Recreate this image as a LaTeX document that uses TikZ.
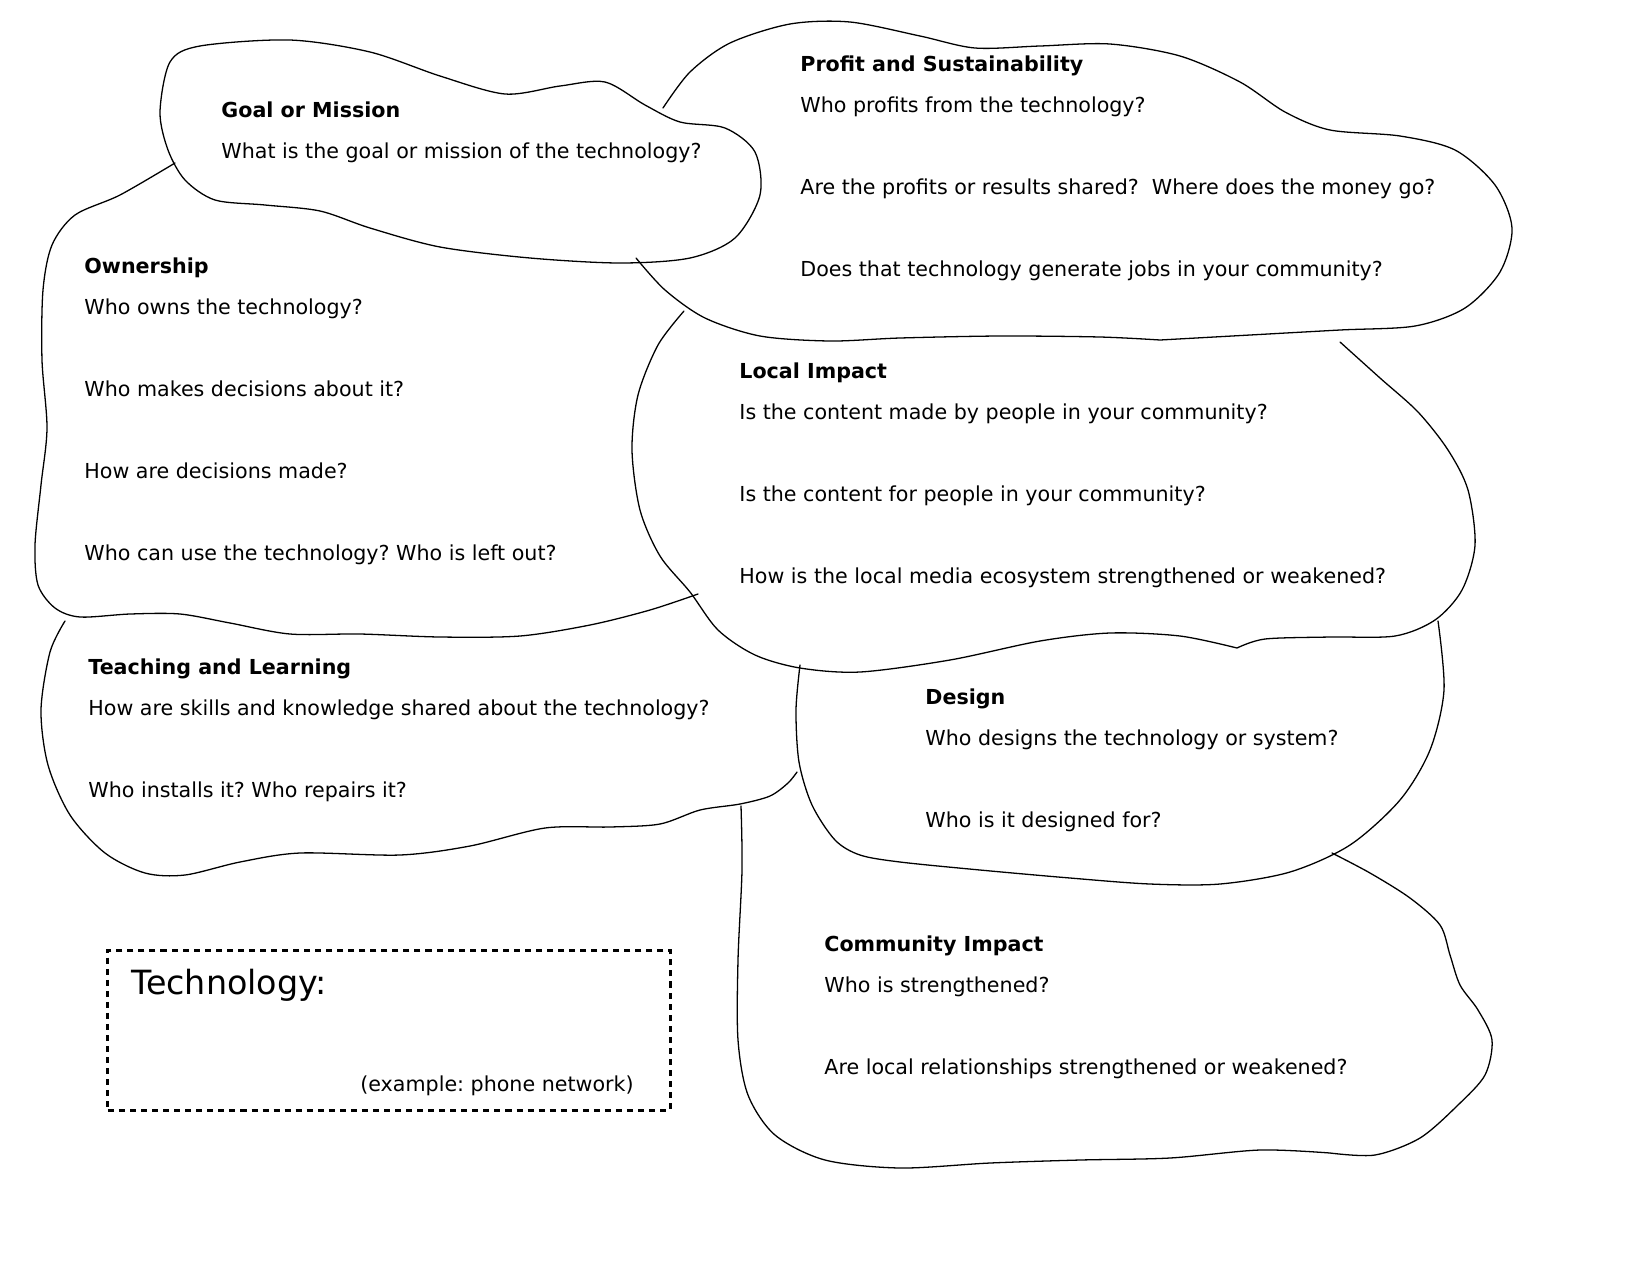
\documentclass[tikz,border=0pt]{standalone}
\usepackage{fontspec}
\setmainfont{DejaVu Sans}
\usepackage{tikz}
\frenchspacing

\tikzset{
  blob/.style={line width=0.62pt, line join=round, line cap=round},
  qblock/.style={anchor=base west, align=left, inner sep=0pt, font=\fontsize{9.9}{19.68}\selectfont},
  techbox/.style={draw, line width=1.45pt, dash pattern=on 2.9pt off 2.4pt, minimum width=269.8pt, minimum height=76.8pt, inner sep=0pt}
}

\begin{document}
\begin{tikzpicture}[x=0.48pt,y=-0.48pt]
    \useasboundingbox (0,0) rectangle (1651,1275);
    \draw[blob] plot[smooth cycle] coordinates {(160,112) (170,62) (200,46) (290,40) (370,52) (440,76) (505,94) (560,86) (605,82) (645,105) (680,122) (725,128) (755,152) (760,195) (735,238) (690,258) (620,263) (530,258) (440,247) (370,228) (320,211) (265,205) (215,200) (185,180) (168,150)};
    \draw[blob] plot[smooth] coordinates {(175,163) (120,195) (75,215) (52,245) (43,290) (42,360) (47,428) (41,485) (35,545) (38,585) (55,608) (80,617) (130,614) (180,614) (230,623) (290,634) (360,634) (440,637) (520,636) (590,625) (650,610) (698,594)};
    \draw[blob] plot[smooth] coordinates {(663,108) (690,72) (730,43) (790,24) (850,22) (920,36) (975,48) (1040,46) (1110,44) (1180,56) (1240,82) (1285,112) (1330,130) (1400,136) (1455,150) (1495,185) (1512,228) (1500,272) (1465,308) (1415,326) (1340,330) (1250,335) (1160,340)}
      -- plot[smooth] coordinates {(1160,340) (1100,337) (1000,336) (900,338) (830,341) (760,336) (705,318) (665,290) (636,258)};
    \draw[blob] plot[smooth] coordinates {(684,311) (658,345) (638,395) (632,450) (640,510) (660,556) (690,592) (718,630) (755,655) (800,668) (860,672) (950,660) (1040,641) (1110,633) (1180,636) (1237,648)}
      -- plot[smooth] coordinates {(1237,648) (1265,639) (1330,637) (1395,636) (1435,620) (1462,590) (1475,545) (1468,490) (1448,450) (1418,412) (1380,378) (1340,342)};
    \draw[blob] plot[smooth] coordinates {(65,621) (50,652) (41,710) (48,765) (70,815) (105,853) (145,873) (185,875) (240,862) (300,853) (400,855) (470,846) (545,828) (610,827) (660,824) (700,810) (740,804) (770,796) (788,783) (797,772)};
    \draw[blob] plot[smooth] coordinates {(800,665) (796,710) (799,762) (812,805) (835,840) (860,855) (900,862) (980,870) (1070,878) (1150,884) (1220,884) (1290,872) (1350,845) (1400,800) (1430,750) (1444,690) (1438,621)};
    \draw[blob] plot[smooth] coordinates {(741,806) (742,870) (738,960) (738,1040) (748,1095) (775,1135) (825,1160) (900,1168) (990,1163) (1080,1160) (1170,1158) (1260,1150) (1330,1153)}
      -- plot[smooth] coordinates {(1330,1153) (1375,1155) (1420,1138) (1458,1105) (1485,1075) (1492,1040) (1478,1010) (1460,985) (1450,955) (1440,925) (1410,898) (1370,873) (1332,853)};
    \node[qblock] (goal) at (221,158) {\textbf{Goal or Mission}\\What is the goal or mission of the technology?};
    \node[qblock] (ownership) at (84,560) {\textbf{Ownership}\\Who owns the technology?\\[19.68pt]Who makes decisions about it?\\[19.68pt]How are decisions made?\\[19.68pt]Who can use the technology? Who is left out?};
    \node[qblock] (profit) at (800,276) {\textbf{Profit and Sustainability}\\Who profits from the technology?\\[19.68pt]Are the profits or results shared?~ Where does the money go?\\[19.68pt]Does that technology generate jobs in your community?};
    \node[qblock] (local) at (739,583) {\textbf{Local Impact}\\Is the content made by people in your community?\\[19.68pt]Is the content for people in your community?\\[19.68pt]How is the local media ecosystem strengthened or weakened?};
    \node[qblock] (teaching) at (88,797) {\textbf{Teaching and Learning}\\How are skills and knowledge shared about the technology?\\[19.68pt]Who installs it? Who repairs it?};
    \node[qblock] (design) at (925,827) {\textbf{Design}\\Who designs the technology or system?\\[19.68pt]Who is it designed for?};
    \node[qblock] (community) at (824,1074) {\textbf{Community Impact}\\Who is strengthened?\\[19.68pt]Are local relationships strengthened or weakened?};
    \node[techbox] (tech) at (389,1030) {};
    \node[anchor=base west, inner sep=0pt, font=\fontsize{16}{19}\selectfont] (techlabel) at (131,994) {Technology:};
    \node[anchor=base east, inner sep=0pt, font=\fontsize{9.9}{12}\selectfont] (techexample) at (634,1091) {(example: phone network)};
  \end{tikzpicture}
\end{document}
